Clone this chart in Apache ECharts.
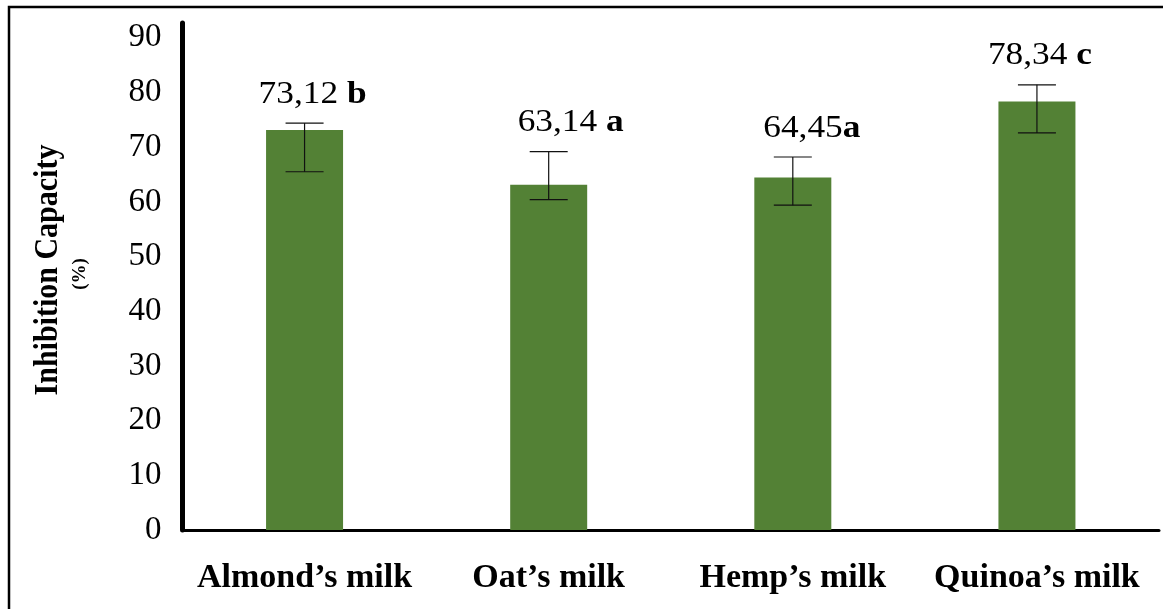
<!DOCTYPE html>
<html>
<head>
<meta charset="utf-8">
<script src="https://cdn.jsdelivr.net/npm/echarts@6/dist/echarts.min.js"></script>
<style>
  html, body { margin: 0; padding: 0; background: #fff; }
  #chart { width: 1163px; height: 609px; }
</style>
</head>
<body>
<div id="chart"></div>
<script>
// Milk types on the x axis
const categories = ["Almond\u2019s milk", "Oat\u2019s milk", "Hemp\u2019s milk", "Quinoa\u2019s milk"];
// Mean inhibition capacity (%)
const values = [73.12, 63.14, 64.45, 78.34];
// Error bar ends (%)
const errLow = [65.5, 60.4, 59.4, 72.6];
const errHigh = [74.4, 69.2, 68.2, 81.4];
// Significance letters and the spacing before them
const groups = ["b", "a", "a", "c"];
const groupGap = [" ", " ", "", " "];
// Y axis tick labels
const yTicks = [0, 10, 20, 30, 40, 50, 60, 70, 80, 90];

// horizontal nudge of each value label (px)
const labelDx = [8, 22, 19, 3];

const FONT = "'Liberation Serif', 'Times New Roman', serif";
const chart = echarts.init(document.getElementById('chart'), null, { renderer: 'canvas' });

const fmt = v => v.toFixed(2).replace('.', ',');

chart.setOption({
  animation: false,
  backgroundColor: '#ffffff',
  grid: { left: 182.5, right: 4, top: 23, bottom: 79 },
  graphic: [
    {
      type: 'rect', z: 0, silent: true,
      shape: { x: 9, y: 7, width: 1300, height: 800 },
      style: { fill: 'none', stroke: '#000', lineWidth: 2.5 }
    },
    {
      type: 'text', x: 48, y: 270, rotation: Math.PI / 2, scaleY: 1.15,
      style: {
        text: 'Inhibition Capacity', fill: '#000',
        font: 'bold 30px ' + FONT, align: 'center', verticalAlign: 'middle'
      }
    },
    {
      type: 'text', x: 80, y: 274, rotation: Math.PI / 2,
      style: {
        text: '(%)', fill: '#000',
        font: 'bold 19px ' + FONT, align: 'center', verticalAlign: 'middle'
      }
    }
  ],
  xAxis: {
    type: 'category',
    data: categories,
    axisTick: { show: false },
    axisLine: { lineStyle: { color: '#000', width: 3 } },
    axisLabel: {
      color: '#000', fontFamily: FONT, fontWeight: 'bold', fontSize: 34,
      margin: 31, interval: 0
    }
  },
  yAxis: {
    type: 'value',
    min: 0, max: 92.7, interval: 10,
    splitLine: { show: false },
    axisTick: { show: false },
    axisLine: { show: true, lineStyle: { color: '#000', width: 5 } },
    axisLabel: {
      color: '#000', fontFamily: FONT, fontSize: 33, margin: 21,
      formatter: v => (yTicks.indexOf(Math.round(v * 1000) / 1000) >= 0 ? String(v) : '')
    }
  },
  series: [
    {
      type: 'bar',
      data: values,
      barWidth: 77,
      itemStyle: { color: '#538135' },
      z: 2
    },
    {
      type: 'custom',
      z: 3,
      data: categories.map((c, i) => [i, errLow[i], errHigh[i]]),
      renderItem: (params, api) => {
        const i = api.value(0);
        const top = api.coord([i, api.value(2)]);
        const bot = api.coord([i, api.value(1)]);
        const half = 19;
        const ls = { stroke: '#111', lineWidth: 1.2 };
        return {
          type: 'group',
          children: [
            { type: 'line', shape: { x1: top[0], y1: top[1], x2: bot[0], y2: bot[1] }, style: ls },
            { type: 'line', shape: { x1: top[0] - half, y1: top[1], x2: top[0] + half, y2: top[1] }, style: ls },
            { type: 'line', shape: { x1: bot[0] - half, y1: bot[1], x2: bot[0] + half, y2: bot[1] }, style: ls }
          ]
        };
      }
    },
    {
      type: 'custom',
      z: 4,
      data: categories.map((c, i) => [i, errHigh[i], values[i]]),
      renderItem: (params, api) => {
        const i = api.value(0);
        const p = api.coord([i, api.value(1)]);
        return {
          type: 'text',
          x: p[0] + labelDx[i],
          y: p[1] - 28.5,
          scaleX: 1.14,
          style: {
            text: '{n|' + fmt(values[i]) + groupGap[i] + '}{g|' + groups[i] + '}',
            align: 'center',
            verticalAlign: 'middle',
            rich: {
              n: { fontFamily: FONT, fontSize: 31, color: '#000' },
              g: { fontFamily: FONT, fontSize: 31, fontWeight: 'bold', color: '#000' }
            }
          }
        };
      }
    }
  ]
});
</script>
</body>
</html>
